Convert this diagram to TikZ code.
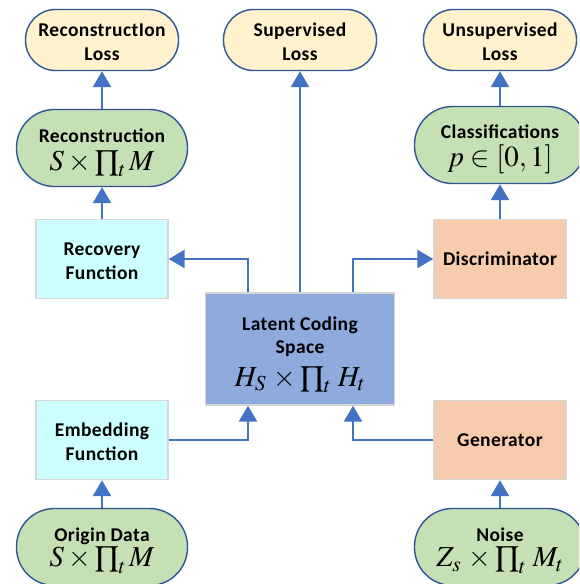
\documentclass[tikz,border=0pt]{standalone}
\usepackage{mathptmx}
\usepackage[no-math]{fontspec}
\setmainfont{Carlito}[LetterSpace=2]
\usetikzlibrary{arrows.meta}
\definecolor{lossfill}{HTML}{FFF2CC}
\definecolor{datafill}{HTML}{C5E0B4}
\definecolor{funcfill}{HTML}{CCFFFF}
\definecolor{ganfill}{HTML}{F8CBAD}
\definecolor{latfill}{HTML}{8FAADC}
\definecolor{pillline}{HTML}{2F5597}
\definecolor{boxline}{HTML}{D6D6D6}
\definecolor{arrline}{HTML}{4472C4}
\newcommand{\eqsize}{\fontsize{29}{31}\selectfont}
\newcommand{\topgap}[1]{\rule{0pt}{#1pt}}
\begin{document}
\begin{tikzpicture}[x=1pt,y=-1pt,font=\fontsize{19.5}{24}\selectfont\bfseries]
	\useasboundingbox (0,0) rectangle (579,584);
	\clip (0,0) rectangle (579,584);
	\tikzstyle{every node}=[align=center,inner sep=0pt,text=black]
	\tikzstyle{loss}=[draw=pillline,line width=1.4pt,fill=lossfill,minimum width=153pt,minimum height=61pt,rounded corners=30pt] % loss = output pill
	\tikzstyle{data}=[loss,fill=datafill,minimum width=171pt,minimum height=77pt,rounded corners=38pt] % data = green pill
	\tikzstyle{func}=[draw=boxline,line width=1.4pt,fill=funcfill,minimum width=132pt,minimum height=79pt] % func = network box
	\tikzstyle{gan}=[func,fill=ganfill]
	\tikzstyle{latent}=[func,fill=latfill,minimum width=189pt,minimum height=112pt]
	\tikzstyle{arr}=[-{Triangle[length=16pt,width=18pt]},draw=arrline,line width=2.6pt]
	% top row
	\node(reclossN)[loss] at (102,40) {\topgap{18}ReconstructIon\\Loss};
	\node(suplossN)[loss] at (300,40) {\topgap{18}Supervised\\Loss};
	\node(unslossN)[loss] at (500,40) {\topgap{18}Unsupervised\\Loss};
	% outputs
	\node(reconN)[data] at (102,148) {\topgap{23}Reconstruction\\[4pt]{\eqsize$S\times\prod_t M$}};
	\node(classN)[data] at (500,145) {\topgap{23}Classifications\\[4pt]{\eqsize$p\in[0,1]$}};
	% networks
	\node(recovN)[func] at (102,259) {\topgap{17}Recovery\\Function};
	\node(discN)[gan] at (500,259) {Discriminator};
	\node(latN)[latent] at (300,349) {\topgap{25}Latent Coding\\[-1pt]Space\\[9pt]{\eqsize$H_S\,\times\prod_t\, H_t$}};
	\node(embN)[func] at (102,440) {\topgap{17}Embedding\\Function};
	\node(genN)[gan] at (500,440) {Generator};
	% inputs
	\node(originN)[data] at (102,547) {\topgap{21}Origin Data\\[1pt]{\eqsize$S\times\prod_t M$}};
	\node(noiseN)[data] at (500,547) {\topgap{21}Noise\\[1pt]{\eqsize$Z_s\,\times\prod_t\, M_t$}};
	% edges
	\draw[arr](reconN.north)--(reclossN.south);
	\draw[arr](recovN.north)--(reconN.south);
	\draw[arr]([xshift=-52pt]latN.north)|-(recovN.east);
	\draw[arr](latN.north)--(suplossN.south);
	\draw[arr]([xshift=53pt]latN.north)|-(discN.west);
	\draw[arr](discN.north)--(classN.south);
	\draw[arr](classN.north)--(unslossN.south);
	\draw[arr](embN.east)-|([xshift=-52pt]latN.south);
	\draw[arr](genN.west)-|([xshift=53pt]latN.south);
	\draw[arr](originN.north)--(embN.south);
	\draw[arr](noiseN.north)--(genN.south);
\end{tikzpicture}
\end{document}
